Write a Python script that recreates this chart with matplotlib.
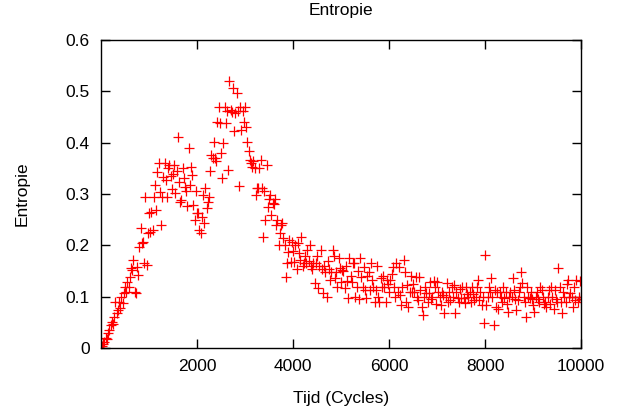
#!/usr/bin/env python3

import numpy as np
import matplotlib
matplotlib.use('Agg')
import matplotlib.pyplot as plt

# entropy samples, one every 25 cycles
step = 25
entropie = [
	.005, .008, .012, .020, .018, .030, .035, .045, .050, .047,
	.060, .090, .068, .074, .090, .078, .100, .087, .107, .119,
	.110, .129, .120, .138, .156, .152, .171, .109, .107, .158,
	.142, .197, .234, .205, .207, .165, .294, .162, .224, .263,
	.226, .265, .230, .294, .318, .269, .343, .360, .304, .240,
	.294, .333, .360, .327, .294, .351, .357, .335, .310, .340,
	.357, .302, .345, .412, .324, .285, .288, .350, .331, .314,
	.305, .277, .390, .318, .353, .337, .279, .250, .305, .263,
	.263, .230, .225, .256, .298, .244, .312, .273, .285, .295,
	.344, .376, .370, .402, .370, .365, .440, .470, .439, .380,
	.331, .400, .470, .439, .461, .347, .521, .464, .460, .506,
	.422, .458, .497, .461, .316, .470, .425, .461, .440, .470,
	.430, .402, .383, .366, .360, .353, .365, .350, .298, .312,
	.312, .351, .366, .312, .217, .305, .250, .357, .275, .290,
	.298, .259, .283, .280, .290, .240, .250, .200, .225, .240,
	.244, .214, .200, .139, .166, .188, .210, .168, .207, .190,
	.168, .200, .154, .205, .185, .172, .217, .160, .166, .180,
	.166, .191, .170, .200, .160, .155, .165, .127, .166, .180,
	.117, .159, .191, .154, .108, .160, .149, .099, .170, .154,
	.133, .149, .191, .180, .136, .149, .120, .175, .156, .129,
	.152, .150, .117, .160, .130, .097, .175, .140, .129, .165,
	.166, .100, .120, .150, .095, .175, .139, .120, .158, .113,
	.097, .140, .149, .113, .166, .133, .120, .090, .113, .160,
	.100, .090, .136, .120, .140, .120, .090, .133, .125, .110,
	.133, .145, .158, .120, .100, .165, .110, .158, .103, .084,
	.120, .172, .149, .090, .123, .080, .110, .140, .110, .125,
	.110, .139, .100, .094, .139, .113, .080, .064, .100, .120,
	.107, .090, .107, .128, .095, .100, .130, .120, .085, .129,
	.110, .100, .084, .110, .103, .068, .100, .126, .090, .110,
	.094, .120, .100, .123, .068, .110, .097, .090, .115, .097,
	.120, .097, .088, .120, .105, .100, .110, .090, .120, .105,
	.094, .100, .120, .133, .094, .110, .084, .100, .048, .181,
	.084, .100, .120, .110, .136, .100, .045, .113, .080, .110,
	.077, .110, .100, .090, .120, .097, .110, .085, .071, .100,
	.110, .100, .136, .113, .095, .074, .094, .110, .120, .149,
	.127, .100, .090, .061, .120, .100, .097, .110, .095, .084,
	.071, .100, .110, .095, .090, .120, .113, .100, .085, .090,
	.080, .100, .113, .085, .120, .100, .077, .113, .095, .090,
	.157, .120, .090, .068, .110, .100, .090, .125, .133, .100,
	.107, .100, .080, .120, .094, .133, .090, .100, .130, .095,
]
cycles = step * np.arange(1, len(entropie) + 1)

xticks = [2000, 4000, 6000, 8000, 10000]
yticks = [0, 0.1, 0.2, 0.3, 0.4, 0.5, 0.6]
ytick_labels = ['0', '0.1', '0.2', '0.3', '0.4', '0.5', '0.6']

plt.rcParams['font.family'] = ['Liberation Sans', 'DejaVu Sans']
plt.rcParams['font.size'] = 12.5

fig = plt.figure(figsize=(6.19, 4.12), dpi=100)
ax = fig.add_axes([0.163, 0.155, 0.776, 0.748])

ax.plot(cycles, entropie, linestyle='none', marker='+', color='#ff0000',
	markersize=6.5, markeredgewidth=0.9)

ax.set_xlim(0, 10000)
ax.set_ylim(0, 0.6)
ax.set_xticks(xticks)
ax.set_yticks(yticks)
ax.set_yticklabels(ytick_labels)
ax.tick_params(direction='in', length=6.5, width=1.0, top=True, right=True, pad=8)
for s in ax.spines.values():
	s.set_linewidth(1.0)

ax.set_title('Entropie', fontsize=12.5, pad=18)
ax.set_xlabel('Tijd (Cycles)', labelpad=12)
ax.set_ylabel('Entropie', labelpad=26)

plt.savefig('out.png', dpi=100)
plt.close()
